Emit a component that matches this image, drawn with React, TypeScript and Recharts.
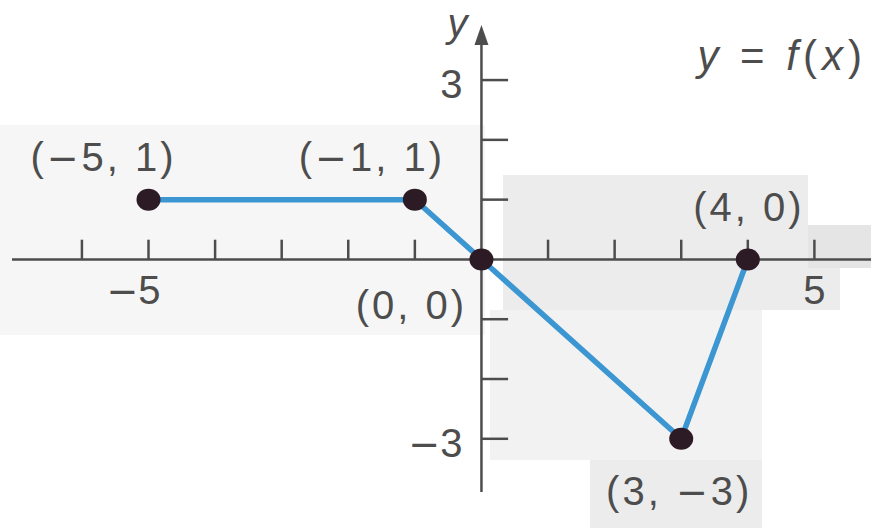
import { LineChart, Line, XAxis, YAxis, ReferenceLine, ReferenceDot, LabelList } from 'recharts';

// piecewise-linear f(x) through five labelled points
const xValues = [-5, -1, 0, 3, 4];
const yValues = [1, 1, 0, -3, 0];
const pointLabels = ['(−5, 1)', '(−1, 1)', '(0, 0)', '(3, −3)', '(4, 0)'];

// axis tick marks and the few that carry numbers
const xTicks = [-6, -5, -4, -3, -2, -1, 1, 2, 3, 4, 5];
const yTicks = [-3, -2, -1, 1, 2, 3];
const xTickNumbers = [-5, 5];
const xTickText = ['−5', '5'];
const yTickNumbers = [3, -3];
const yTickText = ['3', '−3'];

const data = xValues.map((x, i) => ({ x, y: yValues[i], label: pointLabels[i] }));

const W = 871;
const H = 528;
const X_DOMAIN: [number, number] = [-7.05, 5.85];
const Y_DOMAIN: [number, number] = [-3.89, 3.62];

const INK = '#4d4d4d';
const BLUE = '#3b96d2';
const DOT = '#2c1b24';
const FONT = '"Liberation Sans", Arial, sans-serif';
const MINUS_FONT = '"DejaVu Sans", sans-serif';

// label placement relative to each point (px)
const labelOffsets = [
  { dx: -45, dy: -29 },
  { dx: -43, dy: -29 },
  { dx: -70, dy: 60 },
  { dx: -2, dy: 66 },
  { dx: 1, dy: -38 },
];

// faint grey patches of the printed page
const patches = [
  { left: 0, top: 125, width: 485, height: 210, bg: '#f6f6f6' },
  { left: 503, top: 175, width: 305, height: 93, bg: '#ececec' },
  { left: 808, top: 225, width: 63, height: 43, bg: '#e5e5e5' },
  { left: 503, top: 268, width: 337, height: 42, bg: '#ececec' },
  { left: 490, top: 310, width: 272, height: 150, bg: '#f2f2f2' },
  { left: 590, top: 460, width: 172, height: 68, bg: '#ececec' },
];

const X_TICK_LEN = 0.33;
const Y_TICK_LEN = 0.4;

// the printed minus is a long bar, wider than the sans one
const wideMinus = (s: string) =>
  s.split('−').flatMap((part, i) =>
    i === 0
      ? [part]
      : [
          <tspan key={`m${i}`} fontFamily={MINUS_FONT} fontSize={38}>−</tspan>,
          <tspan key={`p${i}`} fontFamily={FONT}>{part}</tspan>,
        ]
  );

const textAt = (dx: number, dy: number, content: string, anchor: 'start' | 'middle' | 'end') =>
  (p: any) => (
    <text
      x={p.cx + dx}
      y={p.cy + dy}
      textAnchor={anchor}
      fill={INK}
      fontFamily={FONT}
      fontSize={40}
    >
      {wideMinus(content)}
    </text>
  );

const PointDot = (p: any) => (
  <ellipse key={`d${p.index}`} cx={p.cx} cy={p.cy} rx={12} ry={11} fill={DOT} />
);

const PointLabel = (p: any) => {
  const off = labelOffsets[p.index];
  return (
    <text
      x={p.x + off.dx}
      y={p.y + off.dy}
      textAnchor="middle"
      fill={INK}
      fontFamily={FONT}
      fontSize={40}
      letterSpacing={3}
    >
      {wideMinus(String(p.value))}
    </text>
  );
};

export default function App() {
  return (
    <div style={{ position: 'absolute', left: 0, top: 0, width: W, height: H, background: '#fff' }}>
      {patches.map((s, i) => (
        <div key={i} style={{ position: 'absolute', left: s.left, top: s.top, width: s.width, height: s.height, background: s.bg }} />
      ))}
      <div style={{ position: 'absolute', left: 0, top: 0 }}>
        <LineChart width={W} height={H} data={data} margin={{ top: 43, right: 0, bottom: 36, left: 12 }}>
          <XAxis type="number" dataKey="x" domain={X_DOMAIN} allowDataOverflow hide />
          <YAxis type="number" domain={Y_DOMAIN} allowDataOverflow hide />

          <ReferenceLine y={0} stroke={INK} strokeWidth={2.5} />
          <ReferenceLine x={0} stroke={INK} strokeWidth={2.5} />
          {xTicks.map((t) => (
            <ReferenceLine key={`xt${t}`} segment={[{ x: t, y: 0 }, { x: t, y: X_TICK_LEN }]} stroke={INK} strokeWidth={2.5} />
          ))}
          {yTicks.map((t) => (
            <ReferenceLine key={`yt${t}`} segment={[{ x: 0, y: t }, { x: Y_TICK_LEN, y: t }]} stroke={INK} strokeWidth={2.5} />
          ))}

          {/* arrow head on the y axis */}
          <ReferenceDot
            x={0}
            y={Y_DOMAIN[1]}
            r={0}
            ifOverflow="visible"
            shape={(p: any) => (
              <polygon points={`${p.cx},${p.cy - 18} ${p.cx - 7},${p.cy + 2} ${p.cx + 7},${p.cy + 2}`} fill={INK} />
            )}
          />
          <ReferenceDot
            x={0}
            y={Y_DOMAIN[1]}
            r={0}
            ifOverflow="visible"
            shape={(p: any) => (
              <text x={p.cx - 14} y={p.cy - 6} textAnchor="end" fill={INK} fontFamily={FONT} fontSize={40} fontStyle="italic">
                y
              </text>
            )}
          />
          <ReferenceDot
            x={X_DOMAIN[1]}
            y={Y_DOMAIN[1]}
            r={0}
            ifOverflow="visible"
            shape={(p: any) => (
              <text x={p.cx - 4} y={p.cy + 27} textAnchor="end" fill={INK} fontFamily={FONT} fontSize={42} letterSpacing={5}>
                <tspan fontStyle="italic">y</tspan>
                <tspan> = </tspan>
                <tspan fontStyle="italic">f</tspan>
                <tspan>(</tspan>
                <tspan fontStyle="italic">x</tspan>
                <tspan>)</tspan>
              </text>
            )}
          />

          {xTickNumbers.map((t, i) => (
            <ReferenceDot key={`xn${t}`} x={t} y={0} r={0} ifOverflow="visible"
              shape={textAt(t < 0 ? 12 : 0, 45, xTickText[i], t < 0 ? 'end' : 'middle')} />
          ))}
          {yTickNumbers.map((t, i) => (
            <ReferenceDot key={`yn${t}`} x={0} y={t} r={0} ifOverflow="visible"
              shape={textAt(-19, 18, yTickText[i], 'end')} />
          ))}

          <Line
            type="linear"
            dataKey="y"
            stroke={BLUE}
            strokeWidth={5.5}
            dot={PointDot}
            activeDot={false}
            isAnimationActive={false}
          >
            <LabelList dataKey="label" content={PointLabel} />
          </Line>
        </LineChart>
      </div>
    </div>
  );
}
